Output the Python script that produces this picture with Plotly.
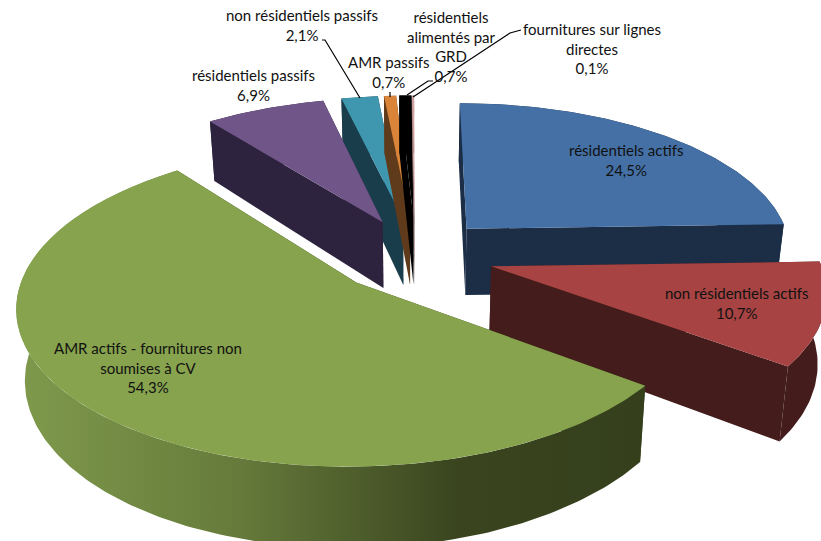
import numpy as np
import plotly.graph_objects as go

# Data
categories = ["résidentiels actifs", "non résidentiels actifs", "AMR actifs - fournitures non soumises à CV",
              "résidentiels passifs", "non résidentiels passifs", "AMR passifs",
              "résidentiels alimentés par GRD", "fournitures sur lignes directes"]
values = [24.5, 10.7, 54.3, 6.9, 2.1, 0.7, 0.7, 0.1]
value_labels = ["24,5%", "10,7%", "54,3%", "6,9%", "2,1%", "0,7%", "0,7%", "0,1%"]

# Style
top_colors = ["#4470A6", "#A74443", "#87A34E", "#705589", "#3F97AF", "#DA843A", "#000000", "#D9A0A0"]
side_colors = ["#1B2E46", "#431C1B", "#3A451F", "#2E233E", "#1A3D4B", "#5F3A1B", "#000000", "#8A6A6A"]
nudge = [0, 0.004, 0.012, 0.018, 0.015, 0.015, 0.015, 0.012]
draw_order = [4, 5, 6, 7, 3, 0, 1, 2]

# Projection of the exploded disc
CX, CY, A, B, K, EXPLODE, DEPTH, SHRINK = 411, 255, 327, 150, 0.14, 0.25, 68, 0.978


def project(X, Y, bottom=False):
    X, Y = np.asarray(X, float), np.asarray(Y, float)
    p = 1 / (1 + K * Y)
    sx, sy = CX + A * X * p, CY - B * Y * p
    if bottom:
        sx = CX + (sx - CX) * SHRINK
        sy = sy + DEPTH * p
    return sx, sy


def poly(fig, xs, ys, color=None, gradient=None, name=""):
    kw = dict(fillgradient=gradient) if gradient else dict(fillcolor=color)
    fig.add_trace(go.Scatter(x=xs, y=ys, mode="lines", fill="toself", line=dict(width=0, color="rgba(0,0,0,0)"),
                             hoverinfo="skip", showlegend=False, name=name, **kw))


fig = go.Figure()
edges = np.cumsum([0] + values) / sum(values) * 2 * np.pi

for i in draw_order:
    t0, t1 = edges[i], edges[i + 1]
    mid = (t0 + t1) / 2
    ax, ay = EXPLODE * np.sin(mid) + nudge[i], EXPLODE * np.cos(mid)
    th = np.linspace(t0, t1, max(8, int((t1 - t0) * 60)))
    rx, ry = ax + np.sin(th), ay + np.cos(th)

    tx, ty = project(rx, ry)
    bx, by = project(rx, ry, True)
    apx, apy = project([ax], [ay])
    apbx, apby = project([ax], [ay], True)
    for k in (0, -1):
        poly(fig, [apx[0], tx[k], bx[k], apbx[0]], [apy[0], ty[k], by[k], apby[0]], side_colors[i], name=categories[i])
    grad = None
    if i == 2:
        grad = dict(type="horizontal", colorscale=[[0, "#7F9A4C"], [0.35, "#667B3B"], [0.7, "#3A451F"], [1, "#353F1C"]])
    poly(fig, np.r_[tx, bx[::-1]], np.r_[ty, by[::-1]], side_colors[i], grad, categories[i])
    poly(fig, np.r_[apx, tx], np.r_[apy, ty], top_colors[i], name=categories[i])

# Leader lines
leaders = [([322, 325, 360], [40, 40, 98]), ([390, 390], [92, 97]),
           ([433, 428, 407], [81, 81, 95]), ([521, 510, 413], [30, 33, 97])]
for lx, ly in leaders:
    fig.add_trace(go.Scatter(x=lx, y=ly, mode="lines", line=dict(color="black", width=1.2), hoverinfo="skip", showlegend=False))

labels = [
    ("résidentiels actifs<br>{}", 626, 160),
    ("non résidentiels actifs<br>{}", 736, 303),
    ("AMR actifs - fournitures non<br>soumises à CV<br>{}", 148, 367),
    ("résidentiels passifs<br>{}", 253, 85),
    ("non résidentiels passifs<br>{}", 302, 25),
    ("AMR passifs<br>{}", 389, 72),
    ("résidentiels<br>alimentés par<br>GRD<br>{}", 451, 46),
    ("fournitures sur lignes<br>directes<br>{}", 592, 48),
]
for (txt, x, y), v in zip(labels, value_labels):
    fig.add_annotation(x=x, y=y, xref="x", yref="y", text=txt.format(v), showarrow=False, align="center",
                       font=dict(family="Lato", size=15, color="#111111"))

fig.update_layout(width=821, height=541, margin=dict(l=0, r=0, t=0, b=0), paper_bgcolor="white", plot_bgcolor="white",
                  showlegend=False,
                  xaxis=dict(range=[0, 821], visible=False, fixedrange=True),
                  yaxis=dict(range=[541, 0], visible=False, fixedrange=True))
fig.write_html("out.html", config=dict(displayModeBar=False), post_script="document.body.style.margin='0';")
